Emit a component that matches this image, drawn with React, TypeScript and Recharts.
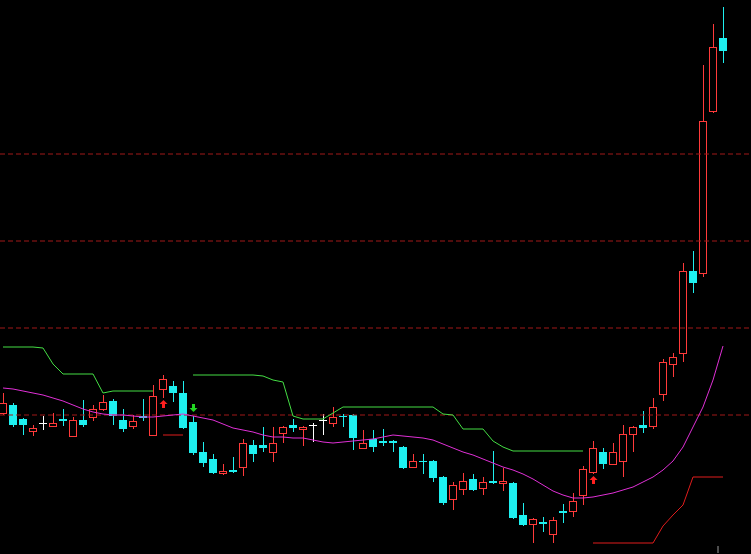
import { ComposedChart, Bar, Line, Scatter, XAxis, YAxis, ReferenceLine } from "recharts";

// daily candles, oldest first
const opens = [
  14.1, 14.9, 13.5, 12.3, 13.1, 12.8, 13.5, 11.8, 13.4, 13.7,
  14.5, 15.3, 13.4, 12.8, 13.8, 11.9, 16.5, 16.8, 16.1, 13.2,
  10.2, 9.5, 8.1, 8.4, 8.7, 10.9, 10.9, 10.2, 12.1, 12.9,
  12.5, 12.9, 13.4, 13.1, 13.8, 13.9, 10.6, 11.5, 11.3, 11.3,
  10.7, 8.7, 9.3, 9.3, 7.7, 5.5, 6.5, 7.5, 6.6, 7.3,
  7.1, 7.1, 3.9, 3.0, 3.2, 2.0, 4.3, 4.3, 5.9, 8.2,
  10.2, 9.0, 9.3, 12.0, 12.9, 12.8, 16.0, 19.0, 20.1, 28.3,
  28.1, 44.3, 51.6,
];
const closes = [
  15.1, 12.9, 12.9, 12.6, 13.1, 13.1, 13.3, 13.4, 12.9, 14.5,
  15.2, 13.8, 12.5, 13.3, 13.6, 15.8, 17.5, 16.1, 12.6, 10.1,
  9.1, 8.1, 8.3, 8.2, 11.1, 10.0, 10.6, 11.1, 12.7, 12.6,
  12.7, 12.9, 13.4, 13.7, 13.7, 11.6, 11.1, 10.7, 11.1, 11.1,
  8.6, 9.3, 9.2, 7.6, 5.1, 6.9, 7.3, 6.4, 7.2, 7.1,
  7.3, 3.6, 2.9, 3.5, 3.0, 3.4, 4.1, 5.3, 8.5, 10.6,
  9.0, 10.2, 12.0, 12.7, 12.6, 14.7, 19.2, 19.7, 28.3, 27.1,
  43.3, 50.7, 50.3,
];
const highs = [
  16.1, 15.1, 13.6, 12.9, 13.8, 14.1, 14.5, 13.7, 15.4, 14.9,
  15.9, 15.5, 14.5, 13.9, 15.5, 16.9, 17.9, 17.3, 17.3, 13.8,
  11.2, 10.0, 9.0, 9.7, 11.5, 11.4, 12.7, 12.7, 12.8, 13.5,
  12.8, 13.1, 14.0, 14.7, 14.0, 14.0, 12.4, 12.4, 12.5, 11.4,
  10.8, 10.0, 10.0, 9.4, 7.8, 7.2, 8.1, 8.0, 7.7, 10.3,
  8.6, 7.2, 5.1, 3.6, 3.7, 3.7, 5.0, 6.1, 8.8, 11.3,
  10.6, 11.1, 12.9, 12.8, 14.3, 15.6, 19.5, 20.1, 29.1, 30.3,
  48.9, 53.0, 54.7,
];
const lows = [
  13.9, 12.7, 11.9, 11.8, 12.4, 12.7, 12.8, 11.8, 12.7, 13.3,
  14.3, 12.9, 12.2, 12.5, 13.3, 11.8, 15.6, 15.2, 12.5, 9.9,
  8.7, 8.0, 7.9, 8.1, 7.8, 9.2, 10.2, 9.2, 11.1, 12.2,
  10.8, 11.2, 11.9, 12.7, 12.7, 10.4, 10.5, 10.2, 10.8, 10.2,
  8.5, 8.6, 8.0, 7.2, 4.9, 4.4, 5.9, 6.3, 5.9, 7.0,
  6.3, 3.5, 2.8, 1.1, 2.2, 1.1, 3.1, 3.7, 4.9, 8.0,
  8.5, 8.9, 7.7, 10.2, 12.1, 12.5, 15.3, 17.7, 19.2, 26.1,
  27.7, 44.1, 49.1,
];

// indicator lines
const ma = [
  16.6, 16.5, 16.3, 16.1, 15.9, 15.6, 15.3, 14.9, 14.5, 14.2,
  14.0, 13.9, 13.9, 13.8, 13.7, 13.7, 13.8, 13.9, 14.0, 13.8,
  13.6, 13.4, 13.0, 12.6, 12.4, 12.2, 11.9, 11.7, 11.7, 11.6,
  11.6, 11.4, 11.2, 11.1, 11.2, 11.3, 11.4, 11.5, 11.7, 11.9,
  11.8, 11.7, 11.6, 11.4, 11.0, 10.6, 10.2, 9.9, 9.5, 9.1,
  8.7, 8.4, 8.0, 7.5, 6.9, 6.3, 5.9, 5.6, 5.6, 5.7,
  5.9, 6.1, 6.4, 6.7, 7.2, 7.7, 8.4, 9.3, 10.7, 12.7,
  14.7, 17.4, 20.8,
];
const upper = [
  20.7, 20.7, 20.7, 20.7, 20.6, 19.0, 18.0, 18.0, 18.0, 18.0,
  16.1, 16.3, 16.3, 16.3, 16.3, 16.3, null, null, null, 17.9,
  17.9, 17.9, 17.9, 17.9, 17.9, 17.9, 17.8, 17.4, 17.2, 13.8,
  13.5, 13.5, 13.5, 14.1, 14.7, 14.7, 14.7, 14.7, 14.7, 14.7,
  14.7, 14.7, 14.7, 14.7, 14.0, 13.9, 12.5, 12.5, 12.5, 11.3,
  10.7, 10.3, 10.3, 10.3, 10.3, 10.3, 10.3, 10.3, 10.3, null,
  null, null, null, null, null, null, null, null, null, null,
  null, null, null,
];
const lower = [
  null, null, null, null, null, null, null, null, null, null,
  null, null, null, null, null, null, 11.9, 11.9, 11.9, null,
  null, null, null, null, null, null, null, null, null, null,
  null, null, null, null, null, null, null, null, null, null,
  null, null, null, null, null, null, null, null, null, null,
  null, null, null, null, null, null, null, null, null, 1.1,
  1.1, 1.1, 1.1, 1.1, 1.1, 1.1, 2.8, 3.9, 4.9, 7.7,
  7.7, 7.7, 7.7,
];

const buySignals = [
  { i: 16, p: 15.0 },
  { i: 59, p: 7.4 },
];
const sellSignals = [{ i: 19, p: 14.6 }];

const gridLevels = [13.9, 22.6, 31.3, 40.0];

const UP = "#ff3a3a";
const DOWN = "#1ef0f0";

const data = opens.map((o, i) => ({
  i,
  open: o,
  close: closes[i],
  high: highs[i],
  low: lows[i],
  ma: ma[i],
  upper: upper[i],
  lower: lower[i],
}));

function Candle(props: any) {
  const { x, y, width, height, payload } = props;
  if (x == null || y == null) return null;
  const { open, close, high, low } = payload;
  const top = Math.min(y, y + height);
  const span = Math.abs(height);
  const yOf = (v: number) => Math.round(top + ((high - v) / (high - low)) * span);
  const cx = Math.round(x + width / 2);
  const wx = cx + 0.5;
  const yh = yOf(high);
  const yl = yOf(low);
  if (open === close) {
    const yc = yOf(open) + 0.5;
    return (
      <g stroke="#ffffff" strokeWidth={1}>
        <line x1={wx} x2={wx} y1={yh} y2={yl} />
        <line x1={cx - 4} x2={cx + 4} y1={yc} y2={yc} />
      </g>
    );
  }
  if (close > open) {
    const bt = yOf(close);
    const bb = yOf(open);
    return (
      <g stroke={UP} strokeWidth={1} fill="none">
        {yh < bt && <line x1={wx} x2={wx} y1={yh} y2={bt} />}
        {yl > bb && <line x1={wx} x2={wx} y1={bb} y2={yl} />}
        <rect x={cx - 3.5} y={bt + 0.5} width={7} height={Math.max(bb - bt, 1)} />
      </g>
    );
  }
  const bt = yOf(open);
  const bb = yOf(close);
  return (
    <g>
      <line x1={wx} x2={wx} y1={yh} y2={yl} stroke={DOWN} strokeWidth={1} />
      <rect x={cx - 4} y={bt} width={8} height={Math.max(bb - bt, 1)} fill={DOWN} />
    </g>
  );
}

function UpArrow(props: any) {
  const { cx, cy } = props;
  if (cx == null || cy == null) return null;
  const x = Math.round(cx) + 0.5;
  const y = Math.round(cy);
  return (
    <g fill="#ff2020">
      <polygon points={`${x},${y - 4} ${x - 4},${y} ${x + 4},${y}`} />
      <rect x={x - 1.5} y={y} width={3} height={4} />
    </g>
  );
}

function DownArrow(props: any) {
  const { cx, cy } = props;
  if (cx == null || cy == null) return null;
  const x = Math.round(cx) + 0.5;
  const y = Math.round(cy);
  return (
    <g fill="#22d822">
      <rect x={x - 1.5} y={y - 4} width={3} height={4} />
      <polygon points={`${x},${y + 4} ${x - 4},${y} ${x + 4},${y}`} />
    </g>
  );
}

export default function App() {
  return (
    <div style={{ position: "absolute", left: 0, top: 0, width: 751, height: 554, background: "#000" }}>
      <ComposedChart width={751} height={554} data={data} margin={{ top: 0, right: 0, bottom: 0, left: 0 }}>
        <XAxis dataKey="i" type="number" domain={[-0.3, 74.8]} allowDataOverflow hide />
        <YAxis type="number" domain={[0, 55.4]} allowDataOverflow hide />
        {gridLevels.map((v) => (
          <ReferenceLine key={v} y={v} stroke="#a01818" strokeDasharray="5 3" />
        ))}
        <ReferenceLine
          segment={[
            { x: 71.5, y: 0.1 },
            { x: 71.5, y: 0.8 },
          ]}
          stroke="#9a9a9a"
        />
        <Bar
          dataKey={(d: any) => [d.low, d.high]}
          barSize={8}
          shape={<Candle />}
          isAnimationActive={false}
        />
        <Line dataKey="ma" stroke="#e030d6" strokeWidth={1} dot={false} activeDot={false} isAnimationActive={false} />
        <Line dataKey="upper" stroke="#44dd44" strokeWidth={1} dot={false} activeDot={false} isAnimationActive={false} />
        <Line dataKey="lower" stroke="#e01c1c" strokeWidth={1} dot={false} activeDot={false} isAnimationActive={false} />
        <Scatter data={buySignals} dataKey="p" shape={<UpArrow />} isAnimationActive={false} />
        <Scatter data={sellSignals} dataKey="p" shape={<DownArrow />} isAnimationActive={false} />
      </ComposedChart>
    </div>
  );
}
